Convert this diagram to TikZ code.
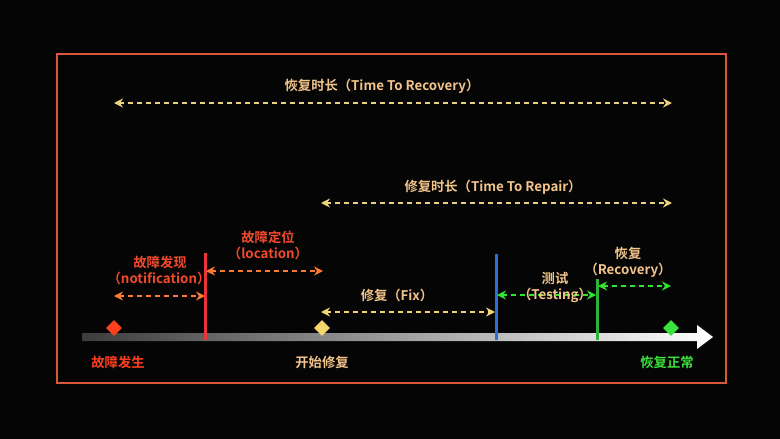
\documentclass[tikz,border=0pt]{standalone}
\usepackage{fontspec}
\setmainfont{Noto Sans CJK SC}[BoldFont={Noto Sans CJK SC Bold}]
\usetikzlibrary{arrows.meta, shapes.geometric, positioning}

\definecolor{bgblack}{HTML}{050505}
\definecolor{framered}{HTML}{D9573A}
\definecolor{beige}{HTML}{F2C48A}
\definecolor{cream}{HTML}{EDD27E}
\definecolor{faultred}{HTML}{FF4020}
\definecolor{notifyred}{HTML}{F24A2C}
\definecolor{notifyarrow}{HTML}{FF7A30}
\definecolor{detectred}{HTML}{E8353A}
\definecolor{fixyellow}{HTML}{F7D56E}
\definecolor{repairblue}{HTML}{2D6FD9}
\definecolor{testgreen}{HTML}{2BB33A}
\definecolor{arrowgreen}{HTML}{2EE62E}
\definecolor{okgreen}{HTML}{3BE23B}
\definecolor{axisdark}{HTML}{3C3C3C}

\tikzset{
  span/.style={dash pattern=on 5pt off 4pt, line width=1.5pt,
    {Stealth[length=9pt, width=9pt, inset=3pt]}-{Stealth[length=9pt, width=9pt, inset=3pt]}},
  lbl/.style={font=\bfseries\fontsize{13.3}{15}\selectfont, inner sep=0pt, text=beige},
  milestone/.style={diamond, minimum size=16pt, inner sep=0pt},
  phase/.style={line width=3pt}
}

\begin{document}
\begin{tikzpicture}[x=1pt, y=-1pt]
  \fill[bgblack] (0,0) rectangle (780,439);
  \useasboundingbox (0,0) rectangle (780,439);
  \draw[framered, line width=1.5pt] (57,54) rectangle (726,383);

  % time axis
  \shade[left color=axisdark, right color=white]
    (82,333) -- (697,333) -- (697,325) -- (713,337) -- (697,349) -- (697,341) -- (82,341) -- cycle;

  % milestones
  \node[milestone, fill=faultred] (fault) at (114,328) {};
  \node[milestone, fill=fixyellow] (fixstart) at (322,328) {};
  \node[milestone, fill=okgreen] (normal) at (671,328) {};
  \node[lbl, text=faultred] (faulttxt) at (118,362) {故障发生};
  \node[lbl] (fixstarttxt) at (322,362) {开始修复};
  \node[lbl, text=okgreen] (normaltxt) at (667,362) {恢复正常};

  % phase boundaries
  \coordinate (detect) at (205,340);
  \coordinate (detecttop) at (205,253);
  \coordinate (repaired) at (496,340);
  \coordinate (repairedtop) at (496,254);
  \coordinate (tested) at (597,340);
  \coordinate (testedtop) at (597,279);
  \draw[phase, detectred] (detecttop) -- (detect);
  \draw[phase, repairblue] (repairedtop) -- (repaired);
  \draw[phase, testgreen] (testedtop) -- (tested);

  % overall durations
  \node[lbl] (ttrtxt) at (382,86) {恢复时长（Time To Recovery）};
  \coordinate (ttr1) at (114,103);
  \coordinate (ttr2) at (672,103);
  \draw[span, cream] (ttr1) -- (ttr2);

  \node[lbl] (ttrptxt) at (493,187) {修复时长（Time To Repair）};
  \coordinate (ttrp1) at (321,203);
  \coordinate (ttrp2) at (672,203);
  \draw[span, cream] (ttrp1) -- (ttrp2);

  % phases
  \node[lbl, text=notifyred] (notifytxt) at (160,262) {故障发现};
  \node[lbl, text=notifyred] (notifytxt2) at (159,278) {（notification）};
  \coordinate (n1) at (114,296);
  \coordinate (n2) at (205,296);
  \draw[span, notifyarrow] (n1) -- (n2);

  \node[lbl, text=notifyred] (locatetxt) at (268,237) {故障定位};
  \node[lbl, text=notifyred] (locatetxt2) at (268,253) {（location）};
  \coordinate (l1) at (206,271);
  \coordinate (l2) at (323,271);
  \draw[span, notifyarrow] (l1) -- (l2);

  \node[lbl] (fixtxt) at (397,295) {修复（Fix）};
  \coordinate (f1) at (321,312);
  \coordinate (f2) at (495,312);
  \draw[span, fixyellow] (f1) -- (f2);

  \node[lbl] (testtxt) at (555,278) {测试};
  \coordinate (t1) at (497,295);
  \coordinate (t2) at (596,295);
  \draw[span, arrowgreen] (t1) -- (t2);
  \node[lbl] (testtxt2) at (555,295) {（Testing）};

  \node[lbl] (recovtxt) at (628,253) {恢复};
  \node[lbl] (recovtxt2) at (628,270) {（Recovery）};
  \coordinate (r1) at (598,286);
  \coordinate (r2) at (671,286);
  \draw[span, arrowgreen] (r1) -- (r2);
\end{tikzpicture}
\end{document}
